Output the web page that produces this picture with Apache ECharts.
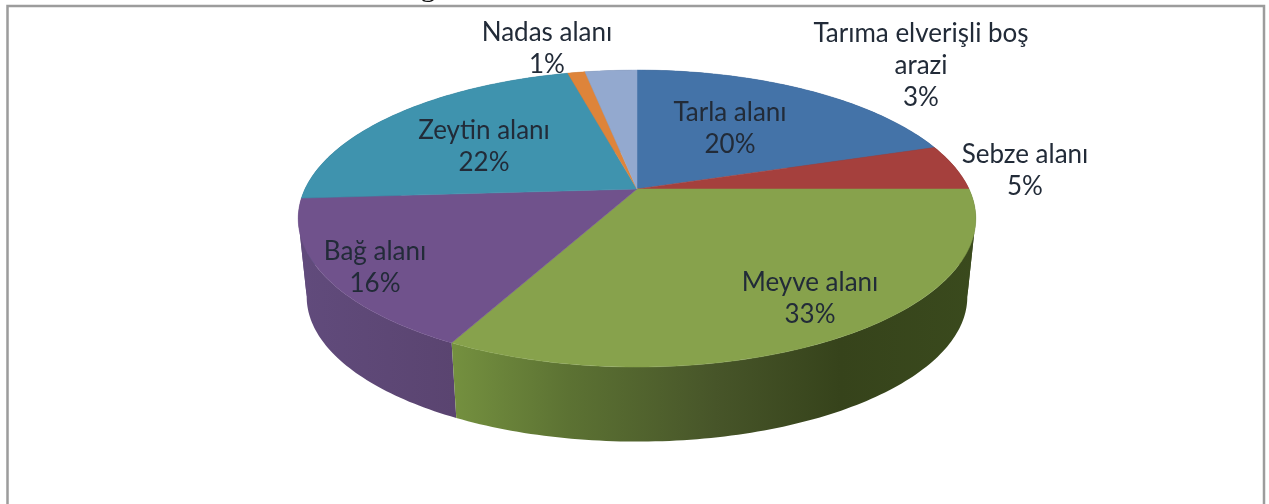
<!DOCTYPE html>
<html>
<head>
<meta charset="utf-8">
<title>Tarım alanları</title>
<script src="https://cdn.jsdelivr.net/npm/echarts@6/dist/echarts.min.js"></script>
<style>
  html, body { margin: 0; padding: 0; background: #fff; }
  #main { width: 1269px; height: 504px; }
</style>
</head>
<body>
<div id="main"></div>
<script>
// clockwise from 12 o'clock
const names = ['Tarla alanı', 'Sebze alanı', 'Meyve alanı', 'Bağ alanı', 'Zeytin alanı', 'Nadas alanı', 'Tarıma elverişli boş\narazi'];
const shares = [20, 5, 32.6, 16.4, 22, 1, 3];

const topColors = ['#4473a8', '#a5403d', '#87a24c', '#70528c', '#3f93ae', '#de843a', '#93a9cf'];
const sideColors = ['#2c4b6e', '#6c2a28', '#36431b', '#5a4470', '#296072', '#925726', '#606f87'];
const meyveSideStops = ['#74903f', '#5c7233', '#475529', '#36431b', '#3a4a1d'];
const bagSideStops = ['#614b7c', '#5a4470'];
// label block centres, in page pixels
const labelCenters = [[730, 129], [1025, 171], [810, 299], [375, 268], [484, 147], [547, 49], [921, 66]];

// pie projection: tilted disc seen in perspective
const cx = 637, cy = 189, rx = 332, ry = 142.6, persp = 0.199;
const depth = 79, bottomScale = 0.975;
// where the disc is widest on screen, the wall folds there
const foldRight = Math.acos(-persp) * 180 / Math.PI, foldLeft = 360 - foldRight;

function project(deg, lower) {
  const a = deg * Math.PI / 180;
  const u = Math.sin(a), v = -Math.cos(a);
  const d = 1 - persp * v;
  const s = lower ? bottomScale : 1;
  return [cx + s * rx * u / d, cy + s * ry * v / d + (lower ? depth : 0)];
}

function arc(from, to, lower) {
  const pts = [];
  const n = Math.max(2, Math.ceil(to - from));
  for (let i = 0; i <= n; i++) {
    pts.push(project(from + (to - from) * i / n, lower));
  }
  return pts;
}

const total = shares.reduce((a, b) => a + b, 0);
let acc = 0;
const slices = shares.map((v, i) => {
  const start = acc / total * 360;
  acc += v;
  return [i, start, acc / total * 360];
});
// back of the pie first so the front walls land on top
const sideOrder = [6, 5, 4, 0, 1, 3, 2].map(i => slices[i]);

function sideFill(i) {
  if (i === 2) {
    const at = [0, 0.22, 0.5, 0.74, 1];
    return new echarts.graphic.LinearGradient(454, 0, 976, 0,
      meyveSideStops.map((c, k) => ({ offset: at[k], color: c })), true);
  }
  if (i === 3) {
    return new echarts.graphic.LinearGradient(298, 0, 455, 0,
      bagSideStops.map((c, k) => ({ offset: k, color: c })), true);
  }
  return sideColors[i];
}

function renderSide(params, api) {
  const i = api.value(0), from = api.value(1), to = api.value(2);
  // split at the folds so each piece is a clean strip
  const cuts = [from];
  [foldRight, foldLeft].forEach(f => { if (f > from && f < to) cuts.push(f); });
  cuts.push(to);
  const children = [];
  for (let k = 0; k < cuts.length - 1; k++) {
    children.push({
      type: 'polygon',
      shape: { points: arc(cuts[k], cuts[k + 1], false).concat(arc(cuts[k], cuts[k + 1], true).reverse()) },
      style: { fill: sideFill(i) }
    });
  }
  return { type: 'group', children: children };
}

function renderTop(params, api) {
  const i = api.value(0), from = api.value(1), to = api.value(2);
  return {
    type: 'polygon',
    shape: { points: [[cx, cy]].concat(arc(from, to, false)) },
    style: { fill: topColors[i], stroke: topColors[i], lineWidth: 0.5 }
  };
}

function renderLabel(params, api) {
  const i = api.value(0);
  return {
    type: 'text',
    style: {
      x: labelCenters[i][0],
      y: labelCenters[i][1],
      text: names[i] + '\n' + Math.round(shares[i]) + '%',
      font: '26px Lato',
      lineHeight: 32,
      align: 'center',
      verticalAlign: 'middle',
      fill: '#222b38'
    }
  };
}

const chart = echarts.init(document.getElementById('main'));
chart.setOption({
  animation: false,
  backgroundColor: '#fff',
  graphic: [
    {
      type: 'polyline',
      shape: { points: [[7.5, 504], [7.5, 6], [1264, 6], [1264, 504]] },
      style: { fill: null, stroke: '#9c9c9c', lineWidth: 2.5 },
      silent: true
    },
    {
      // tail of the caption above the frame, cut off by the crop
      type: 'text',
      style: { x: 428, y: 3, text: 'g', font: '30px "Liberation Serif"', fill: '#111', align: 'center', verticalAlign: 'bottom' },
      silent: true
    }
  ],
  series: [
    { type: 'custom', coordinateSystem: 'none', silent: true, renderItem: renderSide, data: sideOrder },
    { type: 'custom', coordinateSystem: 'none', silent: true, renderItem: renderTop, data: slices },
    { type: 'custom', coordinateSystem: 'none', silent: true, renderItem: renderLabel, data: slices, z: 5 }
  ]
});
</script>
</body>
</html>
